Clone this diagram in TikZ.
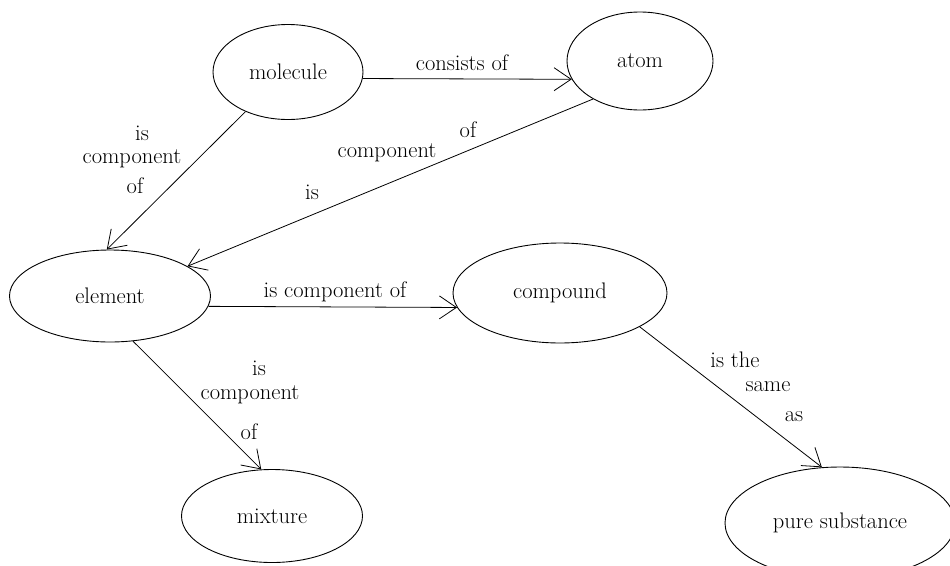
\documentclass[tikz,border=0pt]{standalone}
\usetikzlibrary{shapes.geometric,arrows.meta}
\begin{document}
\begin{tikzpicture}[x=1pt,y=-1pt,
  concept/.style={ellipse,draw,line width=0.9pt,inner sep=0pt,font=\fontsize{22.5}{26}\selectfont},
  lbl/.style={inner sep=0pt,font=\fontsize{22.5}{26}\selectfont},
  link/.style={line width=0.8pt,-{Straight Barb[length=17pt,width=23pt,line width=0.8pt]}}]
\useasboundingbox[fill=white] (0,0) rectangle (950,565);
\node[concept,minimum width=150pt,minimum height=95pt] (mol) at (288,72) {molecule};
\node[concept,minimum width=146pt,minimum height=98pt] (atom) at (640,61) {atom};
\node[concept,minimum width=201pt,minimum height=92pt] (elem) at (110,296) {element};
\node[concept,minimum width=214pt,minimum height=100pt] (comp) at (560,293) {compound};
\node[concept,minimum width=181pt,minimum height=93pt] (mix) at (272,516) {mixture};
\node[concept,minimum width=230pt,minimum height=112pt] (pure) at (840,523) {pure substance};

\draw[link] (mol.-5) -- (atom.195);
\draw[link] (mol.223) -- (elem.94);
\draw[link] (atom.219) -- (elem.21);
\draw[link] (elem.-6) -- (comp.188);
\draw[link] (elem.297) -- (mix.103);
\draw[link] (comp.-23) -- (pure.108);

\node[lbl] (l1) at (462,63) {consists of};
\node[lbl] (l2a) at (142,133) {is};
\node[lbl] (l2b) at (132,159) {component};
\node[lbl] (l2c) at (135,186) {of};
\node[lbl] (l3a) at (468,130) {of};
\node[lbl] (l3b) at (387,153) {component};
\node[lbl] (l3c) at (312,192) {is};
\node[lbl] (l4) at (335,292) {is component of};
\node[lbl] (l5a) at (259,368) {is};
\node[lbl] (l5b) at (250,395) {component};
\node[lbl] (l5c) at (249,432) {of};
\node[lbl] (l6a) at (735,360) {is the};
\node[lbl] (l6b) at (768,387) {same};
\node[lbl] (l6c) at (794,417) {as};
\end{tikzpicture}
\end{document}
